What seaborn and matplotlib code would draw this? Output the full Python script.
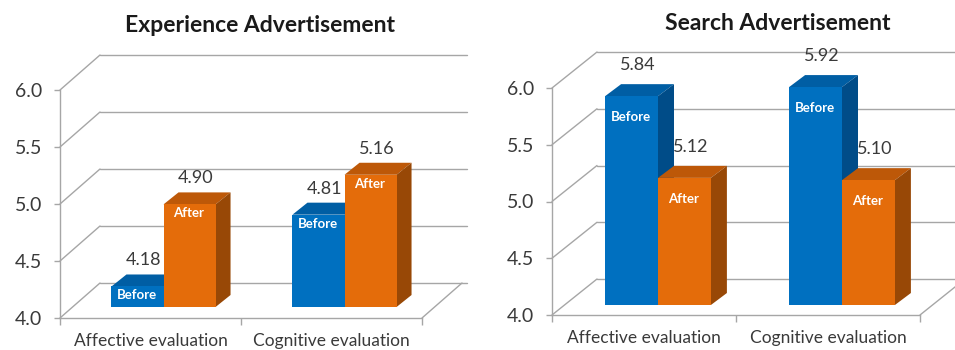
import numpy as np
import pandas as pd
import seaborn as sns
import matplotlib.pyplot as plt
from matplotlib.transforms import ScaledTranslation, IdentityTransform
from matplotlib.patches import Polygon

# ---- data -------------------------------------------------------------
categories = ["Affective evaluation", "Cognitive evaluation"]
phases = ["Before", "After"]
experience_before = [4.18, 4.81]
experience_after = [4.90, 5.16]
search_before = [5.84, 5.92]
search_after = [5.12, 5.10]
panel_titles = ["Experience Advertisement", "Search Advertisement"]
y_ticks = [4.0, 4.5, 5.0, 5.5, 6.0]
y_tick_labels = ["4.0", "4.5", "5.0", "5.5", "6.0"]

# ---- style ------------------------------------------------------------
sns.set_theme(style="white")
plt.rcParams["font.family"] = ["Lato", "DejaVu Sans"]

W, H, DPI = 955, 350, 100
FRONT = {"Before": "#0070C0", "After": "#E46C0A"}
TOP = {"Before": "#005EA4", "After": "#BD5808"}
SIDE = {"Before": "#004C88", "After": "#984806"}
GRID = "#A6A6A6"
TEXT = "#3A3A3A"

fig = plt.figure(figsize=(W / DPI, H / DPI), dpi=DPI)

# pixel layout of each panel: front plot box, bar plane shift, bar depth, wall depth
panels = [
    dict(before=experience_before, after=experience_after, title=panel_titles[0],
         box=(60, 422, 318, 90), plane=(13, 11), depth=(15, 12), wall=(40, 35),
         drop=9, lift=26, title_x=0.552, title_dy=64),
    dict(before=search_before, after=search_after, title=panel_titles[1],
         box=(552, 920, 315, 88), plane=(14, 10), depth=(16, 12), wall=(45, 36),
         drop=21, lift=31, title_x=0.614, title_dy=65),
]


def shifted(ax, dx, dy):
    return ax.transData + ScaledTranslation(dx / DPI, dy / DPI, fig.dpi_scale_trans)


for p in panels:
    x0, x1, ybot, ytop = p["box"]
    ax = fig.add_axes([x0 / W, 1 - ybot / H, (x1 - x0) / W, (ybot - ytop) / H])

    df = pd.DataFrame({
        "category": categories * 2,
        "phase": ["Before"] * len(categories) + ["After"] * len(categories),
        "score": p["before"] + p["after"],
    })
    sns.barplot(data=df, x="category", y="score", hue="phase",
                order=categories, hue_order=phases, palette=FRONT,
                width=0.575, saturation=1, errorbar=None, legend=False,
                linewidth=0, ax=ax)
    ax.set_xlim(-0.5, 1.5)
    ax.set_ylim(4.0, 6.0)
    ax.set_autoscale_on(False)

    px, py = p["plane"]
    ddx, ddy = p["depth"]
    wx, wy = p["wall"]
    base = y_ticks[0]

    # back wall grid, side diagonals and floor
    wall_tr = shifted(ax, wx, wy)
    for t in y_ticks:
        ax.plot([-0.5, 1.53], [t, t], color=GRID, lw=1.0, transform=wall_tr,
                clip_on=False, zorder=1)
        fx, fy = ax.transData.transform((-0.5, t))
        ax.plot([fx, fx + wx], [fy, fy + wy], color=GRID, lw=1.0,
                transform=IdentityTransform(), clip_on=False, zorder=1)
    fx, fy = ax.transData.transform((1.5, base))
    ax.plot([fx, fx + wx], [fy, fy + wy], color=GRID, lw=1.0,
            transform=IdentityTransform(), clip_on=False, zorder=1)

    # extruded bars
    for j, (phase, cont) in enumerate(zip(phases, ax.containers)):
        for i, bar in enumerate(cont):
            value = bar.get_height()
            xl = bar.get_x()
            xr = xl + bar.get_width()
            bar.set_y(base)
            bar.set_height(value - base)
            z = 3 + 3 * (j + 2 * i)
            bar.set_transform(shifted(ax, px, py))
            bar.set_clip_on(False)
            bar.set_zorder(z + 2)

            lx, ty = ax.transData.transform((xl, value))
            rx, by = ax.transData.transform((xr, base))
            lx, rx, ty, by = lx + px, rx + px, ty + py, by + py
            top = Polygon([(lx, ty), (rx, ty), (rx + ddx, ty + ddy), (lx + ddx, ty + ddy)],
                          closed=True, facecolor=TOP[phase], edgecolor="none",
                          transform=IdentityTransform(), clip_on=False, zorder=z)
            side = Polygon([(rx, ty), (rx + ddx, ty + ddy), (rx + ddx, by + ddy), (rx, by)],
                           closed=True, facecolor=SIDE[phase], edgecolor="none",
                           transform=IdentityTransform(), clip_on=False, zorder=z + 1)
            ax.add_patch(top)
            ax.add_patch(side)

            xc = (xl + xr) / 2
            ax.annotate(f"{value:.2f}", xy=(xc, value), xytext=(px + 6, py + p["lift"]),
                        textcoords="offset pixels", ha="center", va="center",
                        fontsize=13, color=TEXT, zorder=20, annotation_clip=False)
            ax.annotate(phase, xy=(xc, value), xytext=(px - 1, py - p["drop"]),
                        textcoords="offset pixels", ha="center", va="center",
                        fontsize=9.5, fontweight="bold", color="white", zorder=20,
                        annotation_clip=False)

    # axes frame
    sns.despine(ax=ax, top=True, right=True)
    for side_name in ("left", "bottom"):
        ax.spines[side_name].set_color(GRID)
        ax.spines[side_name].set_linewidth(1.0)
        ax.spines[side_name].set_zorder(1)

    ax.set_yticks(y_ticks)
    ax.set_yticklabels(y_tick_labels)
    ax.tick_params(axis="y", left=True, length=4, width=1, color=GRID, pad=9,
                   labelsize=14, labelcolor=TEXT)
    ax.set_xticks(range(len(categories)))
    ax.set_xticklabels(categories)
    ax.set_xticks([-0.5, 0.5, 1.5], minor=True)
    ax.tick_params(axis="x", which="major", length=0, pad=11, labelsize=12.5,
                   labelcolor=TEXT)
    ax.tick_params(axis="x", which="minor", bottom=True, length=5, width=1,
                   color=GRID)
    ax.set_xlabel("")
    ax.set_ylabel("")
    ax.set_facecolor("none")
    ax.grid(False)

    ax.annotate(p["title"], xy=(p["title_x"], 1.0), xycoords="axes fraction",
                xytext=(0, p["title_dy"]), textcoords="offset pixels",
                ha="center", va="center", fontsize=16.5, fontweight="bold",
                color="#1A1A1A", annotation_clip=False)

fig.savefig("out.png", dpi=DPI)
